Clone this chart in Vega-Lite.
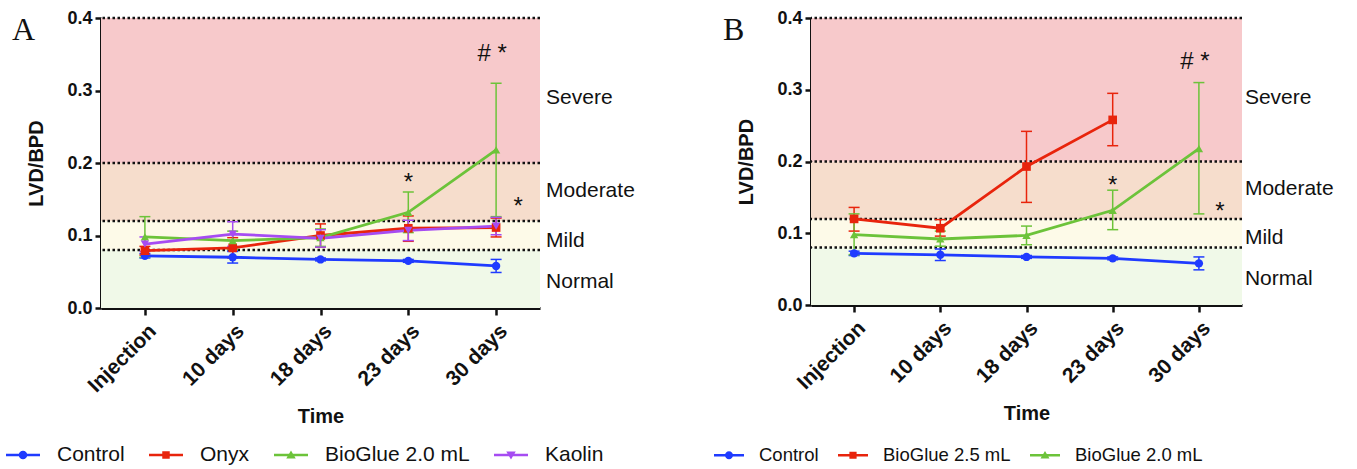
{
  "$schema": "https://vega.github.io/schema/vega-lite/v6.json",
  "background": "white",
  "padding": {"left": 6, "top": 9, "right": 0, "bottom": 0},
  "config": {"view": {"stroke": null}, "font": "Liberation Sans", "concat": {"spacing": 79}},
  "datasets": {
    "bands": [
      {"band": "Normal", "lo": 0, "hi": 0.08},
      {"band": "Mild", "lo": 0.08, "hi": 0.12},
      {"band": "Moderate", "lo": 0.12, "hi": 0.2},
      {"band": "Severe", "lo": 0.2, "hi": 0.4}
    ],
    "bandLabels": [
      {"band": "Normal", "v": 0.036},
      {"band": "Mild", "v": 0.093},
      {"band": "Moderate", "v": 0.161},
      {"band": "Severe", "v": 0.289}
    ],
    "cuts": [{"v": 0.08}, {"v": 0.12}, {"v": 0.2}, {"v": 0.4}],
    "seriesA": [
      {"group": "Control", "time": "Injection", "mean": 0.072, "lo": 0.069, "hi": 0.075},
      {"group": "Control", "time": "10 days", "mean": 0.070, "lo": 0.062, "hi": 0.078},
      {"group": "Control", "time": "18 days", "mean": 0.067, "lo": 0.065, "hi": 0.069},
      {"group": "Control", "time": "23 days", "mean": 0.065, "lo": 0.063, "hi": 0.067},
      {"group": "Control", "time": "30 days", "mean": 0.058, "lo": 0.049, "hi": 0.067},
      {"group": "Onyx", "time": "Injection", "mean": 0.079, "lo": 0.073, "hi": 0.085},
      {"group": "Onyx", "time": "10 days", "mean": 0.083, "lo": 0.069, "hi": 0.097},
      {"group": "Onyx", "time": "18 days", "mean": 0.100, "lo": 0.084, "hi": 0.116},
      {"group": "Onyx", "time": "23 days", "mean": 0.110, "lo": 0.092, "hi": 0.127},
      {"group": "Onyx", "time": "30 days", "mean": 0.111, "lo": 0.098, "hi": 0.124},
      {"group": "BioGlue 2.0 mL", "time": "Injection", "mean": 0.098, "lo": 0.070, "hi": 0.126},
      {"group": "BioGlue 2.0 mL", "time": "10 days", "mean": 0.093, "lo": 0.081, "hi": 0.106},
      {"group": "BioGlue 2.0 mL", "time": "18 days", "mean": 0.097, "lo": 0.085, "hi": 0.109},
      {"group": "BioGlue 2.0 mL", "time": "23 days", "mean": 0.132, "lo": 0.104, "hi": 0.160},
      {"group": "BioGlue 2.0 mL", "time": "30 days", "mean": 0.218, "lo": 0.126, "hi": 0.310},
      {"group": "Kaolin", "time": "Injection", "mean": 0.088, "lo": 0.078, "hi": 0.098},
      {"group": "Kaolin", "time": "10 days", "mean": 0.102, "lo": 0.085, "hi": 0.119},
      {"group": "Kaolin", "time": "18 days", "mean": 0.096, "lo": 0.084, "hi": 0.108},
      {"group": "Kaolin", "time": "23 days", "mean": 0.107, "lo": 0.093, "hi": 0.121},
      {"group": "Kaolin", "time": "30 days", "mean": 0.113, "lo": 0.101, "hi": 0.125}
    ],
    "seriesB": [
      {"group": "Control", "time": "Injection", "mean": 0.072, "lo": 0.069, "hi": 0.075},
      {"group": "Control", "time": "10 days", "mean": 0.070, "lo": 0.062, "hi": 0.078},
      {"group": "Control", "time": "18 days", "mean": 0.067, "lo": 0.065, "hi": 0.069},
      {"group": "Control", "time": "23 days", "mean": 0.065, "lo": 0.063, "hi": 0.067},
      {"group": "Control", "time": "30 days", "mean": 0.058, "lo": 0.049, "hi": 0.067},
      {"group": "BioGlue 2.5 mL", "time": "Injection", "mean": 0.120, "lo": 0.103, "hi": 0.136},
      {"group": "BioGlue 2.5 mL", "time": "10 days", "mean": 0.107, "lo": 0.096, "hi": 0.119},
      {"group": "BioGlue 2.5 mL", "time": "18 days", "mean": 0.193, "lo": 0.143, "hi": 0.242},
      {"group": "BioGlue 2.5 mL", "time": "23 days", "mean": 0.258, "lo": 0.222, "hi": 0.295},
      {"group": "BioGlue 2.0 mL", "time": "Injection", "mean": 0.098, "lo": 0.070, "hi": 0.127},
      {"group": "BioGlue 2.0 mL", "time": "10 days", "mean": 0.092, "lo": 0.082, "hi": 0.103},
      {"group": "BioGlue 2.0 mL", "time": "18 days", "mean": 0.097, "lo": 0.084, "hi": 0.110},
      {"group": "BioGlue 2.0 mL", "time": "23 days", "mean": 0.132, "lo": 0.105, "hi": 0.160},
      {"group": "BioGlue 2.0 mL", "time": "30 days", "mean": 0.218, "lo": 0.127, "hi": 0.310}
    ],
    "hashA": [{"time": "30 days", "v": 0.350, "label": "# *"}],
    "starA": [{"time": "23 days", "v": 0.172, "label": "*"}],
    "rightA": [{"time": "30 days", "v": 0.139, "label": "*"}],
    "hashB": [{"time": "30 days", "v": 0.338, "label": "# *"}],
    "starB": [{"time": "23 days", "v": 0.166, "label": "*"}],
    "rightB": [{"time": "30 days", "v": 0.129, "label": "*"}]
  },
  "hconcat": [
    {
      "width": 439,
      "height": 290,
      "title": {"text": "A", "anchor": "start", "frame": "group", "dx": -89, "dy": 38, "offset": 0, "font": "Liberation Serif", "fontSize": 32, "fontWeight": "normal", "color": "#111"},
      "layer": [
        {
          "data": {"name": "bands"},
          "mark": {"type": "rect"},
          "encoding": {
            "y": {"field": "lo", "type": "quantitative", "scale": {"domain": [0, 0.4], "nice": false, "zero": true},
              "axis": {"title": "LVD/BPD", "titleFontSize": 20, "titleFontWeight": "bold", "titleColor": "#111", "titlePadding": 20,
                "values": [0, 0.1, 0.2, 0.3, 0.4], "format": ".1f", "labelFontSize": 18, "labelFontWeight": "bold", "labelColor": "#111",
                "labelPadding": 3, "tickSize": 6, "tickWidth": 2.5, "tickColor": "#111", "domainWidth": 3, "domainColor": "#111", "grid": false}},
            "y2": {"field": "hi"},
            "fill": {"field": "band", "type": "nominal", "legend": null,
              "scale": {"domain": ["Normal", "Mild", "Moderate", "Severe"], "range": ["#f0f9e8", "#fdfae8", "#f6ddcc", "#f7c9cb"]}}
          }
        },
        {
          "data": {"name": "cuts"},
          "mark": {"type": "rule", "strokeDash": [2.5, 2.5], "strokeWidth": 2.5, "color": "#111"},
          "encoding": {"y": {"field": "v", "type": "quantitative"}}
        },
        {
          "data": {"name": "seriesA"},
          "mark": {"type": "rule", "strokeWidth": 1.5},
          "encoding": {
            "x": {"field": "time", "type": "ordinal",
              "scale": {"type": "point", "padding": 0.5, "domain": ["Injection", "10 days", "18 days", "23 days", "30 days"]},
              "axis": {"title": "Time", "titleFontSize": 20, "titleFontWeight": "bold", "titleColor": "#111", "titlePadding": 11,
                "labelAngle": -45, "labelFontSize": 21, "labelFontWeight": "bold", "labelColor": "#111", "labelPadding": 5,
                "tickSize": 7, "tickWidth": 2.5, "tickColor": "#111", "domainWidth": 3, "domainColor": "#111", "grid": false}},
            "y": {"field": "lo", "type": "quantitative"},
            "y2": {"field": "hi"},
            "color": {"field": "group", "type": "nominal",
              "scale": {"domain": ["Control", "Onyx", "BioGlue 2.0 mL", "Kaolin"], "range": ["#1f3bff", "#e8240c", "#6cc33a", "#a64cf2"]}}
          }
        },
        {
          "data": {"name": "seriesA"},
          "transform": [{"fold": ["lo", "hi"], "as": ["bound", "val"]}],
          "mark": {"type": "tick", "thickness": 1.5, "size": 11, "opacity": 1},
          "encoding": {
            "x": {"field": "time", "type": "ordinal"},
            "y": {"field": "val", "type": "quantitative"},
            "color": {"field": "group", "type": "nominal"}
          }
        },
        {
          "data": {"name": "seriesA"},
          "mark": {"type": "line", "strokeWidth": 2.8},
          "encoding": {
            "x": {"field": "time", "type": "ordinal"},
            "y": {"field": "mean", "type": "quantitative"},
            "order": {"value": null},
            "color": {"field": "group", "type": "nominal"}
          }
        },
        {
          "data": {"name": "seriesA"},
          "transform": [{"filter": {"field": "group", "equal": "Control"}}],
          "mark": {"type": "point", "shape": "circle", "filled": true, "size": 70, "opacity": 1},
          "encoding": {"x": {"field": "time", "type": "ordinal"}, "y": {"field": "mean", "type": "quantitative"}, "color": {"field": "group", "type": "nominal"}}
        },
        {
          "data": {"name": "seriesA"},
          "transform": [{"filter": {"field": "group", "equal": "Onyx"}}],
          "mark": {"type": "point", "shape": "square", "filled": true, "size": 75, "opacity": 1},
          "encoding": {"x": {"field": "time", "type": "ordinal"}, "y": {"field": "mean", "type": "quantitative"}, "color": {"field": "group", "type": "nominal"}}
        },
        {
          "data": {"name": "seriesA"},
          "transform": [{"filter": {"field": "group", "equal": "BioGlue 2.0 mL"}}],
          "mark": {"type": "point", "shape": "triangle-up", "filled": true, "size": 70, "opacity": 1},
          "encoding": {"x": {"field": "time", "type": "ordinal"}, "y": {"field": "mean", "type": "quantitative"}, "color": {"field": "group", "type": "nominal"}}
        },
        {
          "data": {"name": "seriesA"},
          "transform": [{"filter": {"field": "group", "equal": "Kaolin"}}],
          "mark": {"type": "point", "shape": "triangle-down", "filled": true, "size": 70, "opacity": 1},
          "encoding": {"x": {"field": "time", "type": "ordinal"}, "y": {"field": "mean", "type": "quantitative"}, "color": {"field": "group", "type": "nominal"}}
        },
        {
          "data": {"values": []},
          "mark": {"type": "point", "filled": true, "size": 1156, "opacity": 1},
          "encoding": {
            "color": {"field": "group", "type": "nominal",
              "legend": {"orient": "none", "legendX": -95, "legendY": 420, "direction": "horizontal", "title": null,
                "labelFontSize": 21, "labelColor": "#111", "labelOffset": 17, "columnPadding": 24, "symbolSize": 1156,
                "symbolStrokeWidth": 0, "symbolOpacity": 1, "padding": 0, "labelLimit": 300}},
            "shape": {"field": "group", "type": "nominal",
              "scale": {"domain": ["Control", "Onyx", "BioGlue 2.0 mL", "Kaolin"],
                "range": [
                  "M-1,-0.08H1V0.08H-1Z M-0.25,0A0.25,0.25,0,1,1,0.25,0A0.25,0.25,0,1,1,-0.25,0Z",
                  "M-1,-0.08H1V0.08H-1Z M-0.22,-0.22H0.22V0.22H-0.22Z",
                  "M-1,-0.08H1V0.08H-1Z M0,-0.26L0.28,0.2H-0.28Z",
                  "M-1,-0.08H1V0.08H-1Z M0,0.26L-0.28,-0.2H0.28Z"
                ]}}
          }
        },
        {
          "data": {"name": "hashA"},
          "mark": {"type": "text", "fontSize": 24, "align": "center", "baseline": "middle", "dx": -4, "color": "#111"},
          "encoding": {"x": {"field": "time", "type": "ordinal"}, "y": {"field": "v", "type": "quantitative"}, "text": {"field": "label"}}
        },
        {
          "data": {"name": "starA"},
          "mark": {"type": "text", "fontSize": 24, "align": "center", "baseline": "middle", "dx": 0, "color": "#111"},
          "encoding": {"x": {"field": "time", "type": "ordinal"}, "y": {"field": "v", "type": "quantitative"}, "text": {"field": "label"}}
        },
        {
          "data": {"name": "rightA"},
          "mark": {"type": "text", "fontSize": 24, "align": "center", "baseline": "middle", "dx": 22, "color": "#111"},
          "encoding": {"x": {"field": "time", "type": "ordinal"}, "y": {"field": "v", "type": "quantitative"}, "text": {"field": "label"}}
        },
        {
          "data": {"name": "bandLabels"},
          "mark": {"type": "text", "fontSize": 21, "align": "left", "baseline": "middle", "dx": 50, "color": "#111"},
          "encoding": {"x": {"datum": "30 days", "type": "ordinal"}, "y": {"field": "v", "type": "quantitative"}, "text": {"field": "band"}}
        }
      ]
    },
    {
      "width": 431,
      "height": 287,
      "title": {"text": "B", "anchor": "start", "frame": "group", "dx": -88, "dy": 38, "offset": 0, "font": "Liberation Serif", "fontSize": 32, "fontWeight": "normal", "color": "#111"},
      "layer": [
        {
          "data": {"name": "bands"},
          "mark": {"type": "rect"},
          "encoding": {
            "y": {"field": "lo", "type": "quantitative", "scale": {"domain": [0, 0.4], "nice": false, "zero": true},
              "axis": {"title": "LVD/BPD", "titleFontSize": 20, "titleFontWeight": "bold", "titleColor": "#111", "titlePadding": 20,
                "values": [0, 0.1, 0.2, 0.3, 0.4], "format": ".1f", "labelFontSize": 18, "labelFontWeight": "bold", "labelColor": "#111",
                "labelPadding": 3, "tickSize": 6, "tickWidth": 2.5, "tickColor": "#111", "domainWidth": 3, "domainColor": "#111", "grid": false}},
            "y2": {"field": "hi"},
            "fill": {"field": "band", "type": "nominal", "legend": null,
              "scale": {"domain": ["Normal", "Mild", "Moderate", "Severe"], "range": ["#f0f9e8", "#fdfae8", "#f6ddcc", "#f7c9cb"]}}
          }
        },
        {
          "data": {"name": "cuts"},
          "mark": {"type": "rule", "strokeDash": [2.5, 2.5], "strokeWidth": 2.5, "color": "#111"},
          "encoding": {"y": {"field": "v", "type": "quantitative"}}
        },
        {
          "data": {"name": "seriesB"},
          "mark": {"type": "rule", "strokeWidth": 1.5},
          "encoding": {
            "x": {"field": "time", "type": "ordinal",
              "scale": {"type": "point", "padding": 0.5, "domain": ["Injection", "10 days", "18 days", "23 days", "30 days"]},
              "axis": {"title": "Time", "titleFontSize": 20, "titleFontWeight": "bold", "titleColor": "#111", "titlePadding": 11,
                "labelAngle": -45, "labelFontSize": 21, "labelFontWeight": "bold", "labelColor": "#111", "labelPadding": 5,
                "tickSize": 7, "tickWidth": 2.5, "tickColor": "#111", "domainWidth": 3, "domainColor": "#111", "grid": false}},
            "y": {"field": "lo", "type": "quantitative"},
            "y2": {"field": "hi"},
            "color": {"field": "group", "type": "nominal",
              "scale": {"domain": ["Control", "BioGlue 2.5 mL", "BioGlue 2.0 mL"], "range": ["#1f3bff", "#e8240c", "#6cc33a"]}}
          }
        },
        {
          "data": {"name": "seriesB"},
          "transform": [{"fold": ["lo", "hi"], "as": ["bound", "val"]}],
          "mark": {"type": "tick", "thickness": 1.5, "size": 11, "opacity": 1},
          "encoding": {
            "x": {"field": "time", "type": "ordinal"},
            "y": {"field": "val", "type": "quantitative"},
            "color": {"field": "group", "type": "nominal"}
          }
        },
        {
          "data": {"name": "seriesB"},
          "mark": {"type": "line", "strokeWidth": 2.8},
          "encoding": {
            "x": {"field": "time", "type": "ordinal"},
            "y": {"field": "mean", "type": "quantitative"},
            "order": {"value": null},
            "color": {"field": "group", "type": "nominal"}
          }
        },
        {
          "data": {"name": "seriesB"},
          "transform": [{"filter": {"field": "group", "equal": "Control"}}],
          "mark": {"type": "point", "shape": "circle", "filled": true, "size": 70, "opacity": 1},
          "encoding": {"x": {"field": "time", "type": "ordinal"}, "y": {"field": "mean", "type": "quantitative"}, "color": {"field": "group", "type": "nominal"}}
        },
        {
          "data": {"name": "seriesB"},
          "transform": [{"filter": {"field": "group", "equal": "BioGlue 2.5 mL"}}],
          "mark": {"type": "point", "shape": "square", "filled": true, "size": 75, "opacity": 1},
          "encoding": {"x": {"field": "time", "type": "ordinal"}, "y": {"field": "mean", "type": "quantitative"}, "color": {"field": "group", "type": "nominal"}}
        },
        {
          "data": {"name": "seriesB"},
          "transform": [{"filter": {"field": "group", "equal": "BioGlue 2.0 mL"}}],
          "mark": {"type": "point", "shape": "triangle-up", "filled": true, "size": 70, "opacity": 1},
          "encoding": {"x": {"field": "time", "type": "ordinal"}, "y": {"field": "mean", "type": "quantitative"}, "color": {"field": "group", "type": "nominal"}}
        },
        {
          "data": {"values": []},
          "mark": {"type": "point", "filled": true, "size": 900, "opacity": 1},
          "encoding": {
            "color": {"field": "group", "type": "nominal",
              "legend": {"orient": "none", "legendX": -97, "legendY": 422, "direction": "horizontal", "title": null,
                "labelFontSize": 18.5, "labelColor": "#111", "labelOffset": 15, "columnPadding": 19, "symbolSize": 900,
                "symbolStrokeWidth": 0, "symbolOpacity": 1, "padding": 0, "labelLimit": 300}},
            "shape": {"field": "group", "type": "nominal",
              "scale": {"domain": ["Control", "BioGlue 2.5 mL", "BioGlue 2.0 mL"],
                "range": [
                  "M-1,-0.09H1V0.09H-1Z M-0.27,0A0.27,0.27,0,1,1,0.27,0A0.27,0.27,0,1,1,-0.27,0Z",
                  "M-1,-0.09H1V0.09H-1Z M-0.24,-0.24H0.24V0.24H-0.24Z",
                  "M-1,-0.09H1V0.09H-1Z M0,-0.28L0.3,0.22H-0.3Z"
                ]}}
          }
        },
        {
          "data": {"name": "hashB"},
          "mark": {"type": "text", "fontSize": 24, "align": "center", "baseline": "middle", "dx": -4, "color": "#111"},
          "encoding": {"x": {"field": "time", "type": "ordinal"}, "y": {"field": "v", "type": "quantitative"}, "text": {"field": "label"}}
        },
        {
          "data": {"name": "starB"},
          "mark": {"type": "text", "fontSize": 24, "align": "center", "baseline": "middle", "dx": 0, "color": "#111"},
          "encoding": {"x": {"field": "time", "type": "ordinal"}, "y": {"field": "v", "type": "quantitative"}, "text": {"field": "label"}}
        },
        {
          "data": {"name": "rightB"},
          "mark": {"type": "text", "fontSize": 24, "align": "center", "baseline": "middle", "dx": 21, "color": "#111"},
          "encoding": {"x": {"field": "time", "type": "ordinal"}, "y": {"field": "v", "type": "quantitative"}, "text": {"field": "label"}}
        },
        {
          "data": {"name": "bandLabels"},
          "mark": {"type": "text", "fontSize": 21, "align": "left", "baseline": "middle", "dx": 46, "color": "#111"},
          "encoding": {"x": {"datum": "30 days", "type": "ordinal"}, "y": {"field": "v", "type": "quantitative"}, "text": {"field": "band"}}
        }
      ]
    }
  ],
  "resolve": {"scale": {"color": "independent", "shape": "independent", "fill": "independent"}, "legend": {"color": "independent", "shape": "independent"}}
}
